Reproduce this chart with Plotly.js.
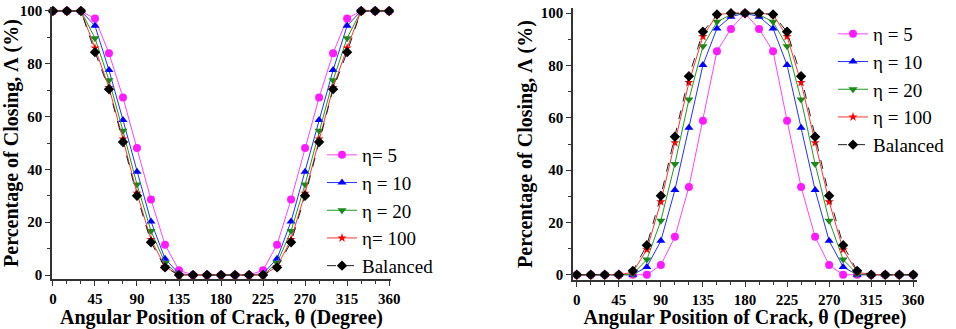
<!DOCTYPE html>
<html>
<head>
<meta charset="utf-8">
<script src="https://cdn.plot.ly/plotly-3.0.1.min.js"></script>
<style>html,body{margin:0;padding:0;background:#fff;}#chart{width:956px;height:329px;}</style>
</head>
<body>
<div id="chart"></div>
<script>
// Angular positions (degrees)
const theta = [0,15,30,45,60,75,90,105,120,135,150,165,180,195,210,225,240,255,270,285,300,315,330,345,360];

// Left panel series
const leftEta5   = [100,100,100,97.1,84,67.2,48.1,28.6,11.5,1.8,0,0,0,0,0,1.8,11.5,28.6,48.1,67.2,84,97.1,100,100,100];
const leftEta10  = [100,100,100,94.4,77.6,58.7,39.1,20.3,6.2,0.5,0,0,0,0,0,0.5,6.2,20.3,39.1,58.7,77.6,94.4,100,100,100];
const leftEta20  = [100,100,100,89.7,73.8,54.6,34.3,16.7,4.6,0,0,0,0,0,0,0,4.6,16.7,34.3,54.6,73.8,89.7,100,100,100];
const leftEta100 = [100,100,100,86,71,51.5,31,13.5,3.2,0,0,0,0,0,0,0,3.2,13.5,31,51.5,71,86,100,100,100];
const leftBal    = [100,100,100,84.4,70.4,50.4,30,12.4,2.9,0,0,0,0,0,0,0,2.9,12.4,30,50.4,70.4,84.4,100,100,100];

// Right panel series
const rightEta5   = [0,0,0,0,0,0,3.7,14.5,33.6,58.9,85.5,94,100,94,85.5,58.9,33.6,14.5,3.7,0,0,0,0,0,0];
const rightEta10  = [0,0,0,0,0,3,13,32.4,56.2,80.2,94.2,98.7,100,98.7,94.2,80.2,56.2,32.4,13,3,0,0,0,0,0];
const rightEta20  = [0,0,0,0,0.3,5.8,20.7,42.4,67,87.4,96.7,99.5,100,99.5,96.7,87.4,67,42.4,20.7,5.8,0.3,0,0,0,0];
const rightEta100 = [0,0,0,0,1,9.6,27.9,50.5,73.5,91.1,99.5,100,100,100,99.5,91.1,73.5,50.5,27.9,9.6,1,0,0,0,0];
const rightBal    = [0,0,0,0,1.5,11.3,30.2,52.8,75.9,92.9,99.5,100,100,100,99.5,92.9,75.9,52.8,30.2,11.3,1.5,0,0,0,0];

const leftNames  = ['η= 5','η = 10','η = 20','η= 100','Balanced'];
const rightNames = ['η = 5','η = 10','η = 20','η = 100','Balanced'];

const styles = [
  {line:{color:'#ff44ff',width:1}, marker:{symbol:'circle',color:'#ff1aff',size:8}},
  {line:{color:'#2233ff',width:1}, marker:{symbol:'triangle-up',color:'#0000ff',size:8}},
  {line:{color:'#229922',width:1}, marker:{symbol:'triangle-down',color:'#1a8a1a',size:8}},
  {line:{color:'#ff3333',width:1}, marker:{symbol:'star',color:'#ff0000',size:7}},
  {line:{color:'#222222',width:1,dash:'dash'}, marker:{symbol:'diamond',color:'#000000',size:8}}
];

const leftSeries = [leftEta5,leftEta10,leftEta20,leftEta100,leftBal];
const rightSeries = [rightEta5,rightEta10,rightEta20,rightEta100,rightBal];

const traces = [];
leftSeries.forEach((ys,i)=>traces.push({x:theta,y:ys,name:leftNames[i],type:'scatter',mode:'lines+markers',
  line:styles[i].line,marker:styles[i].marker,xaxis:'x',yaxis:'y',legend:'legend',cliponaxis:false}));
rightSeries.forEach((ys,i)=>traces.push({x:theta,y:ys,name:rightNames[i],type:'scatter',mode:'lines+markers',
  line:styles[i].line,marker:styles[i].marker,xaxis:'x2',yaxis:'y2',legend:'legend2',cliponaxis:false}));

const serif = 'Liberation Serif';
function tickFont(){ return {family:serif,size:15,color:'#000',weight:'bold'}; }
function titleFont(){ return {family:serif,size:20,color:'#000',weight:'bold'}; }

function xax(domain, range, anchor){
  return {domain:domain, range:range, anchor:anchor, tickvals:[0,45,90,135,180,225,270,315,360],
    ticks:'outside', ticklen:5, tickwidth:1, tickcolor:'#333', showline:true, linecolor:'#333', linewidth:1.5,
    showgrid:false, zeroline:false, tickfont:tickFont(),
    minor:{dtick:15, tick0:0, ticks:'outside', ticklen:3, tickcolor:'#333', showgrid:false},
    title:{text:'Angular Position of Crack, θ (Degree)', font:titleFont(), standoff:0}};
}
function yax(domain, range, anchor){
  return {domain:domain, range:range, anchor:anchor, tickvals:[0,20,40,60,80,100],
    ticks:'outside', ticklen:5, tickwidth:1, tickcolor:'#333', showline:true, linecolor:'#333', linewidth:1.5,
    showgrid:false, zeroline:false, tickfont:tickFont(),
    minor:{dtick:10, tick0:0, ticks:'outside', ticklen:3, tickcolor:'#333', showgrid:false},
    title:{text:'Percentage of Closing, Λ (%)', font:titleFont(), standoff:3}};
}

function legendCfg(x, y){
  return {font:{family:serif,size:19,color:'#000'}, bgcolor:'rgba(0,0,0,0)', borderwidth:0,
    xanchor:'left', yanchor:'top', itemwidth:30, tracegroupgap:0, x:x, y:y};
}

const layout = {
  width:956, height:329,
  font:{family:serif, color:'#000'},
  margin:{l:0,r:0,t:0,b:0},
  paper_bgcolor:'#fff', plot_bgcolor:'#fff',
  xaxis: xax([52/956, 391/956], [-1,362], 'y'),
  yaxis: yax([(329-279)/329, (329-7)/329], [-1.5,101.5], 'x'),
  xaxis2: xax([573/956, 917/956], [-4,364], 'y2'),
  yaxis2: yax([(329-280)/329, (329-8)/329], [-2,102], 'x2'),
  legend: legendCfg(322/956, (329-136)/329),
  legend2: legendCfg(833/956, (329-15)/329),
  showlegend:true
};

Plotly.newPlot('chart', traces, layout, {displayModeBar:false});
</script>
</body>
</html>
